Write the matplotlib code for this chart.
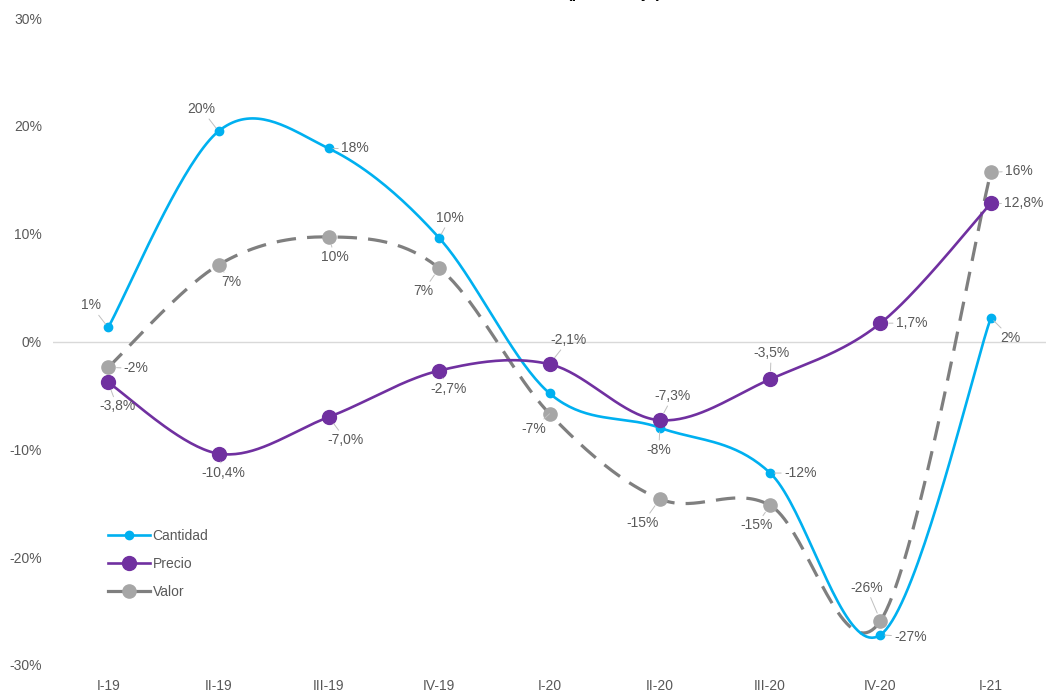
import numpy as np
import matplotlib
matplotlib.use("Agg")
import matplotlib.pyplot as plt
from matplotlib.lines import Line2D

plt.rcParams["font.family"] = ["Liberation Sans", "DejaVu Sans"]
plt.rcParams["lines.scale_dashes"] = False

# Quarterly year-on-year change (%)
quarters = ["I-19", "II-19", "III-19", "IV-19", "I-20", "II-20", "III-20", "IV-20", "I-21"]
cantidad = [1.3, 19.5, 17.9, 9.6, -4.8, -8.0, -12.2, -27.2, 2.2]
precio = [-3.8, -10.4, -7.0, -2.7, -2.1, -7.3, -3.5, 1.7, 12.8]
valor = [-2.4, 7.1, 9.7, 6.8, -6.7, -14.6, -15.2, -25.9, 15.7]

cantidad_labels = ["1%", "20%", "18%", "10%", None, "-8%", "-12%", "-27%", "2%"]
precio_labels = ["-3,8%", "-10,4%", "-7,0%", "-2,7%", "-2,1%", "-7,3%", "-3,5%", "1,7%", "12,8%"]
valor_labels = ["-2%", "7%", "10%", "7%", "-7%", "-15%", "-15%", "-26%", "16%"]

y_ticks = [-30, -20, -10, 0, 10, 20, 30]

# label offsets in pixels (dx, dy) from each point
cantidad_off = [(-17, 22), (-17, 22), (26, 0), (11, 20), (0, 0), (-1, -22), (30, 0), (30, -2), (20, -20)]
precio_off = [(9, -24), (5, -19), (17, -23), (9, -18), (19, 24), (13, 24), (1, 26), (31, 0), (33, 0)]
valor_off = [(28, -1), (13, -17), (6, -20), (-16, -23), (-16, -15), (-17, -24), (-14, -20), (-14, 33), (28, 1)]

C_CANT = "#00B0F0"
C_PREC = "#7030A0"
C_VAL_LINE = "#7F7F7F"
C_VAL_MK = "#A6A6A6"
TXT = "#595959"


def smooth(xs, ys, n=40):
    """Cubic Bezier smoothing through every point (spreadsheet style)."""
    p = np.column_stack([xs, ys]).astype(float)
    ext = np.vstack([p[0], p, p[-1]])
    out = []
    t = np.linspace(0, 1, n)[:, None]
    for i in range(len(p) - 1):
        p0, p1 = p[i], p[i + 1]
        c1 = p0 + (ext[i + 2] - ext[i]) / 6.0
        c2 = p1 - (ext[i + 3] - ext[i + 1]) / 6.0
        seg = ((1 - t) ** 3) * p0 + 3 * ((1 - t) ** 2) * t * c1 + 3 * (1 - t) * t ** 2 * c2 + t ** 3 * p1
        out.append(seg if i == 0 else seg[1:])
    s = np.vstack(out)
    return s[:, 0], s[:, 1]


fig = plt.figure(figsize=(10.46, 6.95), dpi=100)
ax = fig.add_axes([53 / 1046, 30 / 695, 1 - 53 / 1046, 647 / 695])

x = np.arange(len(quarters))

ax.axhline(0, color="#D9D9D9", lw=1.0, zorder=1)

# Valor
sx, sy = smooth(x, valor)
ax.plot(sx, sy, color=C_VAL_LINE, lw=2.3, dashes=(14, 8), zorder=2)
ax.plot(x, valor, "o", color=C_VAL_MK, ms=9.5, mec=C_VAL_MK, zorder=2.5)

# Cantidad
sx, sy = smooth(x, cantidad)
ax.plot(sx, sy, color=C_CANT, lw=1.9, zorder=3)
ax.plot(x, cantidad, "o", color=C_CANT, ms=6, zorder=3.5)

# Precio
sx, sy = smooth(x, precio)
ax.plot(sx, sy, color=C_PREC, lw=1.9, zorder=4)
ax.plot(x, precio, "o", color=C_PREC, ms=10, zorder=4.5)


def label_series(vals, labels, offs, shrink):
    for xi, v, lab, (dx, dy) in zip(x, vals, labels, offs):
        if lab is None:
            continue
        ax.annotate(lab, xy=(xi, v), xytext=(dx, dy), textcoords="offset pixels",
                    ha="center", va="center", fontsize=10, color=TXT, zorder=6,
                    arrowprops=dict(arrowstyle="-", color="#BFBFBF", lw=0.7,
                                    shrinkA=0, shrinkB=shrink))


label_series(cantidad, cantidad_labels, cantidad_off, 3)
label_series(precio, precio_labels, precio_off, 6)
label_series(valor, valor_labels, valor_off, 6)

ax.set_xlim(-0.5, 8.5)
ax.set_ylim(-30, 30)
ax.set_xticks(x)
ax.set_xticklabels(quarters)
ax.set_yticks(y_ticks)
ax.set_yticklabels([f"{t}%" for t in y_ticks])
ax.tick_params(axis="both", length=0, colors=TXT, labelsize=10)
ax.tick_params(axis="x", pad=10)
ax.tick_params(axis="y", pad=8)
for s in ax.spines.values():
    s.set_visible(False)
ax.patch.set_alpha(0)

handles = [
    Line2D([], [], color=C_CANT, lw=1.9, marker="o", ms=6),
    Line2D([], [], color=C_PREC, lw=1.9, marker="o", ms=10),
    Line2D([], [], color=C_VAL_LINE, lw=2.3, marker="o", ms=9.5, mfc=C_VAL_MK, mec=C_VAL_MK),
]
leg = fig.legend(handles, ["Cantidad", "Precio", "Valor"], loc="upper left",
                 bbox_to_anchor=(108 / 1046, 1 - 529 / 695), bbox_transform=fig.transFigure,
                 frameon=False, fontsize=10, handlelength=3.0, handletextpad=0.2,
                 labelspacing=1.0, borderpad=0, borderaxespad=0)
for t in leg.get_texts():
    t.set_color(TXT)

# chart title, sitting at the very top edge
fig.text(614 / 1046, 1 + 2 / 695, "(porcentaje)", ha="center", va="baseline",
         fontsize=12, fontweight="bold", color="black")

fig.savefig("out.png", dpi=100)
